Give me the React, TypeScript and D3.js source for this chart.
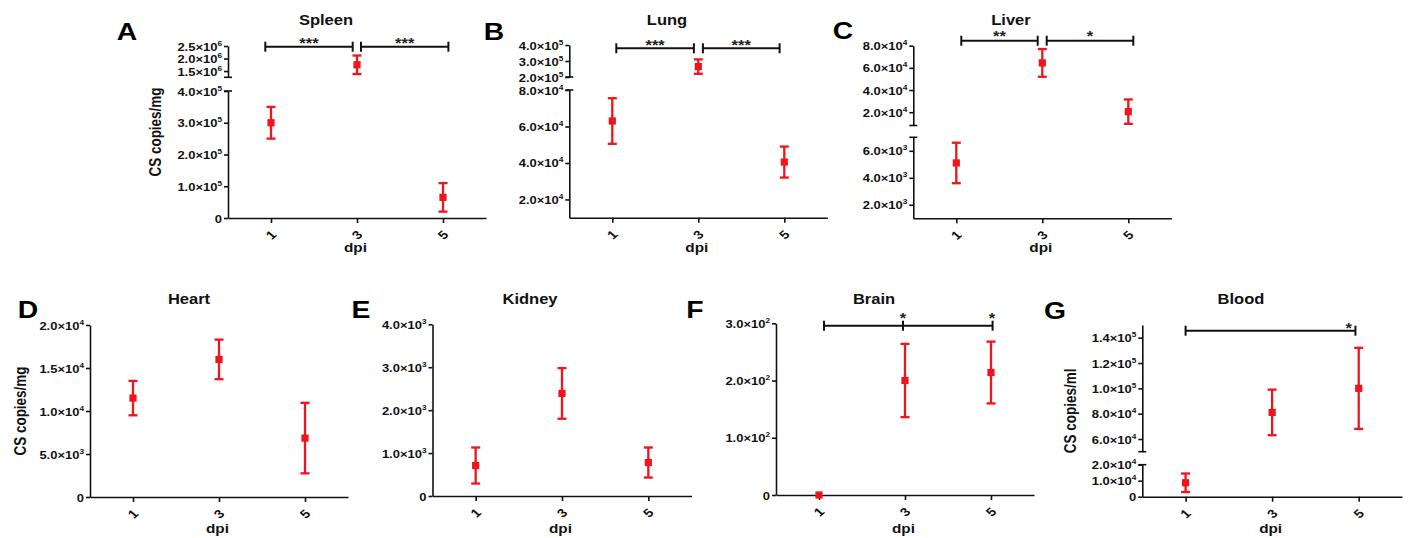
import React, { useEffect, useRef } from 'react';
import * as d3 from 'd3';

// dpi groups on the x axis
const days = ['1', '3', '5'];

// mean and error per organ
const spleenMean = [3.0e5, 1.75e6, 6.5e4];
const spleenErr = [5.0e4, 3.7e5, 4.5e4];
const lungMean = [6.3e4, 2.65e5, 4.05e4];
const lungErr = [1.25e4, 4.5e4, 8.5e3];
const liverMean = [5.1e3, 6.45e4, 2.05e4];
const liverErr = [1.5e3, 1.25e4, 1.1e4];
const heartMean = [1.15e4, 1.6e4, 6.85e3];
const heartErr = [2.0e3, 2.3e3, 4.1e3];
const kidneyMean = [710, 2390, 780];
const kidneyErr = [420, 590, 350];
const brainMean = [0, 200, 214];
const brainErr = [0, 64, 54];
const bloodMean = [8.7e3, 8.1e4, 1.0e5];
const bloodErr = [5.8e3, 1.8e4, 3.2e4];

// y axis pieces (broken axes, bottom piece first) and their ticks
const spleenDomains = [[0, 4e5], [1.25e6, 2.5e6]];
const spleenTicks = [[0, 1e5, 2e5, 3e5, 4e5], [1.5e6, 2e6, 2.5e6]];
const lungDomains = [[1e4, 8e4], [2e5, 4e5]];
const lungTicks = [[2e4, 4e4, 6e4, 8e4], [2e5, 3e5, 4e5]];
const liverDomains = [[1e3, 7e3], [8e3, 8e4]];
const liverTicks = [[2e3, 4e3, 6e3], [2e4, 4e4, 6e4, 8e4]];
const heartDomains = [[0, 2e4]];
const heartTicks = [[0, 5e3, 1e4, 1.5e4, 2e4]];
const kidneyDomains = [[0, 4e3]];
const kidneyTicks = [[0, 1e3, 2e3, 3e3, 4e3]];
const brainDomains = [[0, 300]];
const brainTicks = [[0, 100, 200, 300]];
const bloodDomains = [[0, 2e4], [5e4, 1.5e5]];
const bloodTicks = [[0, 1e4, 2e4], [6e4, 8e4, 1e5, 1.2e5, 1.4e5]];

// significance brackets
const spleenSig = [{ from: '1', to: '3', text: '***' }, { from: '3', to: '5', text: '***' }];
const lungSig = [{ from: '1', to: '3', text: '***' }, { from: '3', to: '5', text: '***' }];
const liverSig = [{ from: '1', to: '3', text: '**' }, { from: '3', to: '5', text: '*' }];
const brainSig = [{ from: '1', to: '5', mids: ['3'], starAt: ['3', '5'] }];
const bloodSig = [{ from: '1', to: '5', starAt: ['5'] }];

const FONT = '"Liberation Sans", Arial, Helvetica, sans-serif';
const SX = 1.18; // the source figure is a bit stretched horizontally
const RED = '#f0141c';
const INK = '#111';

const panels: any[] = [
  { letter: 'A', title: 'Spleen', ylabel: 'CS copies/mg', mean: spleenMean, err: spleenErr,
    domains: spleenDomains, ticks: spleenTicks, sig: spleenSig,
    x0: 228, x1: 486, ranges: [[218, 91], [77.3, 46]],
    letterX: 127, letterY: 40, titleX: 326, titleY: 25, ylabelX: 160.5, dpiY: 252,
    sigY: 46.7, sigDx: [[-5.7, -4.3], [4, 5.4]], starOff: -6.7 },
  { letter: 'B', title: 'Lung', mean: lungMean, err: lungErr,
    domains: lungDomains, ticks: lungTicks, sig: lungSig,
    x0: 569.3, x1: 827.3, ranges: [[217.7, 90], [77, 45]],
    letterX: 494, letterY: 40, titleX: 667, titleY: 25, dpiY: 252,
    sigY: 48.3, sigDx: [[4, -4.4], [4.6, -4.7]], starOff: -6.6 },
  { letter: 'C', title: 'Liver', mean: liverMean, err: liverErr,
    domains: liverDomains, ticks: liverTicks, sig: liverSig,
    x0: 913.3, x1: 1171.3, ranges: [[218.3, 137.3], [125.5, 45.7]],
    letterX: 843, letterY: 39, titleX: 1011, titleY: 25, dpiY: 252,
    sigY: 40.7, sigDx: [[5, -4.6], [4.4, 5]], starOff: -7.7 },
  { letter: 'D', title: 'Heart', ylabel: 'CS copies/mg', mean: heartMean, err: heartErr,
    domains: heartDomains, ticks: heartTicks,
    x0: 90, x1: 348, ranges: [[497, 325]],
    letterX: 28, letterY: 318, titleX: 189, titleY: 304, ylabelX: 25.5, dpiY: 533 },
  { letter: 'E', title: 'Kidney', mean: kidneyMean, err: kidneyErr,
    domains: kidneyDomains, ticks: kidneyTicks,
    x0: 432.5, x1: 691.5, ranges: [[496, 324.3]],
    letterX: 361, letterY: 318, titleX: 530, titleY: 304, dpiY: 533 },
  { letter: 'F', title: 'Brain', mean: brainMean, err: brainErr,
    domains: brainDomains, ticks: brainTicks, sig: brainSig,
    x0: 776, x1: 1034, ranges: [[495, 323.3]],
    letterX: 695, letterY: 318, titleX: 874, titleY: 304, dpiY: 533,
    sigY: 325.7, sigDx: [[5, 1.6]], midDx: -2, starDx: [-2, 1], starOff: -11 },
  { letter: 'G', title: 'Blood', ylabel: 'CS copies/ml', mean: bloodMean, err: bloodErr,
    domains: bloodDomains, ticks: bloodTicks, sig: bloodSig,
    x0: 1142.3, x1: 1402, ranges: [[496.7, 464.7], [451.7, 325]],
    letterX: 1055, letterY: 319, titleX: 1241, titleY: 304, ylabelX: 1075.5, dpiY: 533,
    sigY: 330.7, sigDx: [[0, -3.3]], starDx: [-10], starOff: -5.7 },
];

// 4.0x10^5 style labels -> [mantissa part, exponent]
function sci(v: number) {
  if (v === 0) return ['0', ''];
  const e = Math.floor(Math.log10(v) + 1e-9);
  const m = v / Math.pow(10, e);
  return [m.toFixed(1) + '\u00d710', String(e)];
}

function drawPanel(svg: any, p: any) {
  const g = svg.append('g');
  const x = d3.scalePoint().domain(days).range([p.x0, p.x1]).padding(0.5);
  const ys = p.domains.map((d: number[], i: number) => d3.scaleLinear().domain(d).range(p.ranges[i]));
  const segOf = (v: number) => {
    const i = p.domains.findIndex((d: number[]) => v >= d[0] && v <= d[1]);
    return i < 0 ? 0 : i;
  };
  const baseY = p.ranges[0][0];
  const topY = p.ranges[p.ranges.length - 1][1];

  g.append('text')
    .attr('transform', `translate(${p.letterX},${p.letterY}) scale(${SX},1)`)
    .attr('text-anchor', 'middle').attr('font-size', 24).attr('font-weight', 'bold')
    .attr('font-family', FONT).attr('fill', '#000')
    .text(p.letter);

  g.append('text')
    .attr('transform', `translate(${p.titleX},${p.titleY}) scale(${SX},1)`)
    .attr('text-anchor', 'middle').attr('font-size', 14).attr('font-weight', 'bold')
    .attr('font-family', FONT).attr('fill', '#111')
    .text(p.title);

  // y axis, one piece per segment
  p.domains.forEach((d: number[], i: number) => {
    const ax = g.append('g')
      .attr('transform', `translate(${p.x0},0)`)
      .call(d3.axisLeft(ys[i]).tickValues(p.ticks[i]).tickSize(4).tickSizeOuter(0).tickFormat(() => ''))
      .attr('color', INK).attr('stroke-width', 1.6);
    ax.selectAll('.tick text').remove();
    ax.selectAll('.tick').each(function (this: any, t: any) {
      const [main, exp] = sci(t);
      const txt = d3.select(this).append('text')
        .attr('transform', `translate(-6,4) scale(${SX},1)`)
        .attr('text-anchor', 'end').attr('font-size', 11).attr('font-weight', 'bold')
        .attr('font-family', FONT).attr('fill', INK).attr('stroke', 'none');
      txt.append('tspan').text(main);
      if (exp) txt.append('tspan').attr('dy', -5).attr('font-size', 7).text(exp);
    });
    const caps: number[] = [];
    if (i > 0) caps.push(p.ranges[i][0]);
    if (i < p.domains.length - 1) caps.push(p.ranges[i][1]);
    caps.forEach((cy) => {
      g.append('line')
        .attr('x1', p.x0 - 4).attr('x2', p.x0 + 4).attr('y1', cy).attr('y2', cy)
        .attr('stroke', INK).attr('stroke-width', 1.6);
    });
  });

  // x axis
  const xa = g.append('g')
    .attr('transform', `translate(0,${baseY})`)
    .call(d3.axisBottom(x).tickSize(5).tickSizeOuter(0))
    .attr('color', INK).attr('stroke-width', 1.6);
  xa.selectAll('.tick text').remove();
  days.forEach((d) => {
    g.append('text')
      .attr('transform', `translate(${x(d)},${baseY + 17}) scale(${SX},1) rotate(-45)`)
      .attr('text-anchor', 'middle').attr('dy', '0.35em')
      .attr('font-size', 12).attr('font-weight', 'bold').attr('font-family', FONT).attr('fill', INK)
      .text(d);
  });
  g.append('text')
    .attr('transform', `translate(${(x('3') as number) - 1.5},${p.dpiY}) scale(${SX},1)`)
    .attr('text-anchor', 'middle').attr('font-size', 13).attr('font-weight', 'bold')
    .attr('font-family', FONT).attr('fill', INK)
    .text('dpi');

  if (p.ylabel) {
    g.append('text')
      .attr('transform', `translate(${p.ylabelX},${(baseY + topY) / 2}) rotate(-90) scale(1,${SX})`)
      .attr('text-anchor', 'middle').attr('font-size', 13.5).attr('font-weight', 'bold')
      .attr('font-family', FONT).attr('fill', INK)
      .text(p.ylabel);
  }

  // error bars + square markers
  days.forEach((d, i) => {
    const m = p.mean[i];
    const e = p.err[i];
    const y = ys[segOf(m)];
    const cx = x(d) as number;
    if (e > 0) {
      const yt = y(m + e);
      const yb = y(m - e);
      g.append('line').attr('x1', cx).attr('x2', cx).attr('y1', yt).attr('y2', yb)
        .attr('stroke', RED).attr('stroke-width', 2.3);
      [yt, yb].forEach((cy) => {
        g.append('line').attr('x1', cx - 4.5).attr('x2', cx + 4.5).attr('y1', cy).attr('y2', cy)
          .attr('stroke', RED).attr('stroke-width', 2.3);
      });
    }
    g.append('rect')
      .attr('x', cx - 3.6).attr('y', y(m) - 3.6).attr('width', 7.2).attr('height', 7.2)
      .attr('fill', RED);
  });

  // significance brackets
  (p.sig || []).forEach((s: any, k: number) => {
    const xa1 = (x(s.from) as number) + p.sigDx[k][0];
    const xb1 = (x(s.to) as number) + p.sigDx[k][1];
    const sy = p.sigY;
    const line = (x1: number, y1: number, x2: number, y2: number) =>
      g.append('line').attr('x1', x1).attr('y1', y1).attr('x2', x2).attr('y2', y2)
        .attr('stroke', INK).attr('stroke-width', 2);
    line(xa1, sy, xb1, sy);
    line(xa1, sy - 5, xa1, sy + 5);
    line(xb1, sy - 5, xb1, sy + 5);
    (s.mids || []).forEach((mm: string) => {
      const mx = (x(mm) as number) + (p.midDx || 0);
      line(mx, sy - 5, mx, sy + 5);
    });
    const star = (sx: number, label: string) =>
      g.append('text')
        .attr('transform', `translate(${sx},${sy + p.starOff + 8}) scale(${SX},1)`)
        .attr('text-anchor', 'middle').attr('font-size', 14).attr('font-weight', 'bold')
        .attr('font-family', FONT).attr('fill', '#222')
        .text(label);
    if (s.text) star((xa1 + xb1) / 2, s.text);
    (s.starAt || []).forEach((sa: string, j: number) => star((x(sa) as number) + p.starDx[j], '*'));
  });
}

export default function App() {
  const ref = useRef<SVGSVGElement>(null);

  useEffect(() => {
    const svg = d3.select(ref.current);
    svg.selectAll('*').remove();
    panels.forEach((p) => drawPanel(svg, p));
  }, []);

  return (
    <svg
      ref={ref}
      width={1411}
      height={538}
      style={{ position: 'absolute', left: 0, top: 0, background: '#fff' }}
    />
  );
}
